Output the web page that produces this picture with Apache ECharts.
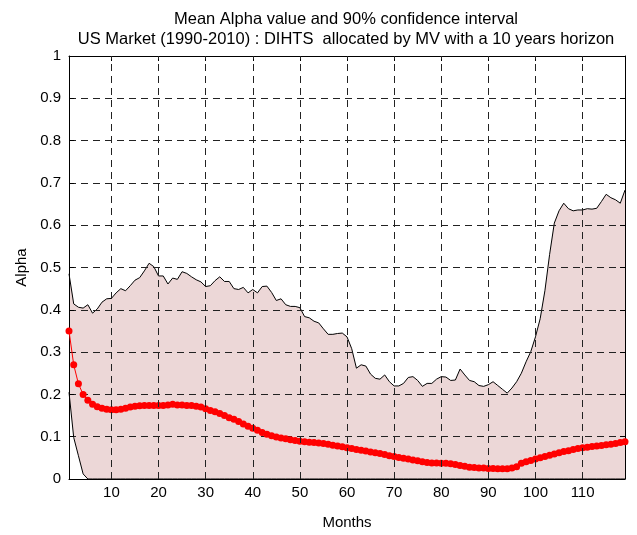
<!DOCTYPE html>
<html>
<head>
<meta charset="utf-8">
<script src="https://cdn.jsdelivr.net/npm/echarts@6/dist/echarts.min.js"></script>
<style>
  html, body { margin: 0; padding: 0; background: #fff; }
  #chart { width: 637px; height: 535px; }
</style>
</head>
<body>
<div id="chart"></div>
<script>
// Horizon in months (1 .. 119)
const months = Array.from({ length: 119 }, (_, i) => i + 1);

// Tick positions on the month axis
const monthTicks = [10, 20, 30, 40, 50, 60, 70, 80, 90, 100, 110];

// Mean alpha per month
const meanAlpha = [
  0.35, 0.27, 0.225, 0.2, 0.186, 0.177, 0.171, 0.167, 0.165, 0.164,
  0.164, 0.165, 0.167, 0.17, 0.172, 0.173, 0.174, 0.174, 0.174, 0.174,
  0.174, 0.175, 0.177, 0.175, 0.175, 0.174, 0.174, 0.172, 0.17, 0.166,
  0.162, 0.159, 0.155, 0.15, 0.145, 0.141, 0.136, 0.13, 0.125, 0.12,
  0.115, 0.11, 0.106, 0.102, 0.099, 0.097, 0.095, 0.093, 0.091, 0.089,
  0.088, 0.087, 0.086, 0.085, 0.084, 0.082, 0.08, 0.078, 0.076, 0.074,
  0.072, 0.07, 0.068, 0.066, 0.064, 0.062, 0.06, 0.058, 0.055, 0.053,
  0.051, 0.049, 0.047, 0.045, 0.043, 0.041, 0.039, 0.038, 0.038, 0.037,
  0.037, 0.036, 0.034, 0.032, 0.03, 0.028, 0.027, 0.026, 0.026, 0.025,
  0.025, 0.024, 0.024, 0.024, 0.026, 0.029,
  0.037, 0.041, 0.044, 0.047, 0.05, 0.053, 0.056, 0.059, 0.062, 0.065,
  0.067, 0.07, 0.072, 0.074, 0.075, 0.077, 0.078, 0.079, 0.081, 0.082,
  0.084, 0.086, 0.088
];

// Upper bound of the 90% confidence interval
const upperBound = [
  0.485, 0.414, 0.406, 0.404, 0.412, 0.392, 0.402, 0.418, 0.426, 0.427,
  0.44, 0.45, 0.445, 0.457, 0.47, 0.476, 0.492, 0.51, 0.502, 0.48,
  0.48, 0.461, 0.475, 0.472, 0.49, 0.486, 0.478, 0.471, 0.466, 0.455,
  0.457, 0.469, 0.478, 0.467, 0.467, 0.45, 0.448, 0.453, 0.44, 0.448,
  0.44, 0.455, 0.456, 0.441, 0.422, 0.426, 0.412, 0.408, 0.408, 0.405,
  0.384, 0.381, 0.373, 0.369, 0.355, 0.342, 0.342, 0.344, 0.345, 0.336,
  0.308, 0.262, 0.27, 0.267, 0.248, 0.238, 0.236, 0.246, 0.23, 0.22,
  0.22, 0.226, 0.24, 0.242, 0.233, 0.219, 0.226, 0.226, 0.236, 0.242,
  0.241, 0.233, 0.234, 0.26, 0.246, 0.233, 0.23, 0.221, 0.219, 0.223,
  0.23, 0.221, 0.212, 0.203, 0.215, 0.23,
  0.25, 0.277, 0.301, 0.336, 0.379, 0.445, 0.531, 0.605, 0.634, 0.652,
  0.639, 0.634, 0.636, 0.636, 0.639, 0.638, 0.64, 0.656, 0.673, 0.665,
  0.66, 0.652, 0.683
];

// Lower bound of the 90% confidence interval (clipped at zero)
const lowerBound = [
  0.205, 0.098, 0.055, 0.012, 0, 0, 0, 0, 0, 0,
  0, 0, 0, 0, 0, 0, 0, 0, 0, 0,
  0, 0, 0, 0, 0, 0, 0, 0, 0, 0,
  0, 0, 0, 0, 0, 0, 0, 0, 0, 0,
  0, 0, 0, 0, 0, 0, 0, 0, 0, 0,
  0, 0, 0, 0, 0, 0, 0, 0, 0, 0,
  0, 0, 0, 0, 0, 0, 0, 0, 0, 0,
  0, 0, 0, 0, 0, 0, 0, 0, 0, 0,
  0, 0, 0, 0, 0, 0, 0, 0, 0, 0,
  0, 0, 0, 0, 0, 0, 0, 0, 0, 0,
  0, 0, 0, 0, 0, 0, 0, 0, 0, 0,
  0, 0, 0, 0, 0, 0, 0, 0, 0
];

const titleLines = [
  'Mean Alpha value and 90% confidence interval',
  'US Market (1990-2010) : DIHTS  allocated by MV with a 10 years horizon'
];

const FONT = '"Liberation Sans", Arial, Helvetica, sans-serif';
const pairs = (vals) => months.map((m, i) => [m, vals[i]]);

const gridDash = { color: '#222', width: 1, type: [7, 5] };
const tickIn = { show: true, inside: true, length: 5, lineStyle: { color: '#000', width: 1 } };
const axisLn = { show: true, onZero: false, lineStyle: { color: '#000', width: 1 } };

// Vertical dashed grid lines at the month ticks
const monthGrid = {
  silent: true,
  symbol: ['none', 'none'],
  label: { show: false },
  lineStyle: gridDash,
  emphasis: { disabled: true },
  data: monthTicks.map((m) => ({ xAxis: m }))
};

const chart = echarts.init(document.getElementById('chart'), null, { renderer: 'canvas' });
chart.setOption({
  animation: false,
  backgroundColor: '#fff',
  title: {
    text: titleLines.join('\n'),
    left: 341,
    top: 4,
    textAlign: 'center',
    textStyle: { fontFamily: FONT, fontSize: 16.5, fontWeight: 'normal', color: '#000', lineHeight: 20 }
  },
  grid: { left: 69, right: 12, top: 56, bottom: 51, containLabel: false },
  xAxis: [
    {
      type: 'value', min: 1, max: 119, position: 'bottom', z: 2,
      axisLine: axisLn,
      axisTick: Object.assign({ customValues: monthTicks }, tickIn),
      axisLabel: { fontFamily: FONT, fontSize: 15, color: '#000', margin: 6, customValues: monthTicks },
      splitLine: { show: false },
      name: 'Months', nameLocation: 'middle', nameGap: 36,
      nameTextStyle: { fontFamily: FONT, fontSize: 15, color: '#000' }
    },
    {
      type: 'value', min: 1, max: 119, position: 'top', z: 2,
      axisLine: axisLn,
      axisTick: Object.assign({ customValues: monthTicks }, tickIn),
      axisLabel: { show: false }, splitLine: { show: false }
    }
  ],
  yAxis: [
    {
      type: 'value', min: 0, max: 1, interval: 0.1, position: 'left', z: 2,
      axisLine: axisLn, axisTick: tickIn,
      axisLabel: { fontFamily: FONT, fontSize: 15, color: '#000', margin: 8 },
      splitLine: { show: true, lineStyle: gridDash },
      name: 'Alpha', nameLocation: 'middle', nameGap: 40, nameRotate: 90,
      nameTextStyle: { fontFamily: FONT, fontSize: 15, color: '#000' }
    },
    {
      type: 'value', min: 0, max: 1, interval: 0.1, position: 'right', z: 2,
      axisLine: axisLn, axisTick: tickIn,
      axisLabel: { show: false }, splitLine: { show: false }
    }
  ],
  series: [
    {
      name: 'Upper bound', type: 'line', z: 1, data: pairs(upperBound),
      showSymbol: false, symbol: 'none',
      lineStyle: { color: '#000', width: 1 },
      areaStyle: { color: '#ecd7d7', opacity: 1 }
    },
    {
      name: 'Lower bound', type: 'line', z: 1, data: pairs(lowerBound),
      showSymbol: false, symbol: 'none',
      lineStyle: { color: '#000', width: 1 },
      areaStyle: { color: '#ffffff', opacity: 1 },
      markLine: monthGrid
    },
    {
      name: 'Mean alpha', type: 'line', z: 3, data: pairs(meanAlpha),
      symbol: 'circle', symbolSize: 7, showSymbol: true,
      itemStyle: { color: '#ff0000' },
      lineStyle: { color: '#ff0000', width: 1 }
    }
  ]
});
</script>
</body>
</html>
